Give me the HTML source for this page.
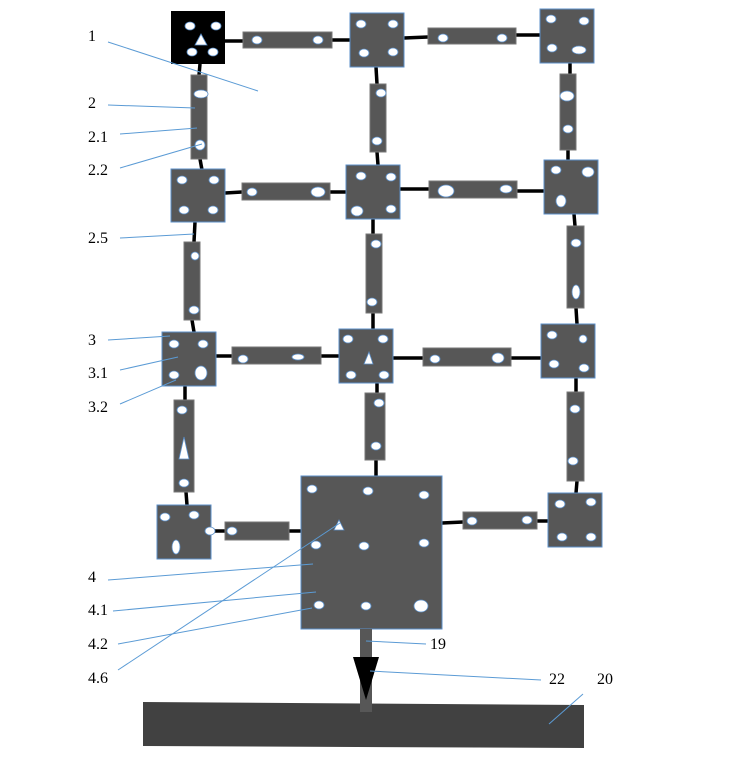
<!DOCTYPE html>
<html><head><meta charset="utf-8"><style>
html,body{margin:0;padding:0;background:#fff;}
svg{display:block}
text{font-family:"Liberation Serif",serif;font-size:16px;fill:#000}
.n{fill:#575757;stroke:#5b8fc9;stroke-width:1}
.b{fill:#575757;stroke:#777;stroke-width:1}
.c{stroke:#000;stroke-width:3.5}
.h{fill:#fff;stroke:#5b8fc9;stroke-width:0.8}
.l{stroke:#5b9bd5;stroke-width:1;fill:none}
</style></head><body>
<svg width="754" height="771" viewBox="0 0 754 771" xmlns="http://www.w3.org/2000/svg">
<!-- connectors -->
<g class="c">
<line x1="225" y1="41" x2="243" y2="41"/><line x1="332" y1="40" x2="350" y2="40"/>
<line x1="404" y1="38" x2="428" y2="37"/><line x1="516" y1="35" x2="540" y2="35"/>
<line x1="200" y1="64" x2="199" y2="75"/><line x1="200" y1="159" x2="202" y2="170"/>
<line x1="376" y1="67" x2="377" y2="84"/><line x1="377" y1="152" x2="378" y2="165"/>
<line x1="570" y1="63" x2="570" y2="74"/><line x1="568" y1="150" x2="568" y2="160"/>
<line x1="225" y1="193" x2="242" y2="192"/><line x1="330" y1="192" x2="346" y2="192"/>
<line x1="400" y1="189" x2="429" y2="189"/><line x1="517" y1="191" x2="544" y2="191"/>
<line x1="195" y1="222" x2="194" y2="242"/><line x1="192" y1="320" x2="194" y2="332"/>
<line x1="373" y1="219" x2="373" y2="234"/><line x1="373" y1="313" x2="373" y2="329"/>
<line x1="574" y1="214" x2="575" y2="226"/><line x1="576" y1="308" x2="577" y2="324"/>
<line x1="216" y1="356" x2="232" y2="356"/><line x1="321" y1="356" x2="339" y2="356"/>
<line x1="393" y1="358" x2="423" y2="358"/><line x1="511" y1="358" x2="541" y2="358"/>
<line x1="185" y1="386" x2="185" y2="400"/><line x1="186" y1="492" x2="187" y2="505"/>
<line x1="377" y1="383" x2="377" y2="393"/><line x1="376" y1="460" x2="376" y2="476"/>
<line x1="576" y1="378" x2="576" y2="392"/><line x1="577" y1="481" x2="576" y2="493"/>
<line x1="211" y1="531" x2="225" y2="531"/><line x1="289" y1="531" x2="301" y2="531"/>
<line x1="442" y1="523" x2="463" y2="522"/><line x1="537" y1="521" x2="548" y2="521"/>
</g>
<!-- bars -->
<g class="b">
<rect x="243" y="32" width="89" height="16"/><rect x="428" y="28" width="88" height="16"/>
<rect x="242" y="183" width="88" height="17"/><rect x="429" y="181" width="88" height="17"/>
<rect x="232" y="347" width="89" height="17"/><rect x="423" y="348" width="88" height="18"/>
<rect x="225" y="522" width="64" height="18"/><rect x="463" y="512" width="74" height="17"/>
<rect x="191" y="75" width="16" height="84"/><rect x="184" y="242" width="16" height="78"/><rect x="174" y="400" width="20" height="92"/>
<rect x="370" y="84" width="16" height="68"/><rect x="366" y="234" width="16" height="79"/><rect x="365" y="393" width="20" height="67"/>
<rect x="560" y="74" width="16" height="76"/><rect x="567" y="226" width="17" height="82"/><rect x="567" y="392" width="17" height="89"/>
</g>
<!-- nodes -->
<rect x="171" y="11" width="54" height="53" fill="#000"/>
<g class="n">
<rect x="350" y="13" width="54" height="54"/><rect x="540" y="9" width="54" height="54"/>
<rect x="171" y="169" width="54" height="53"/><rect x="346" y="165" width="54" height="54"/><rect x="544" y="160" width="54" height="54"/>
<rect x="162" y="332" width="54" height="54"/><rect x="339" y="329" width="54" height="54"/><rect x="541" y="324" width="54" height="54"/>
<rect x="157" y="505" width="54" height="54"/><rect x="301" y="476" width="141" height="153"/><rect x="548" y="493" width="54" height="54"/>
</g>
<!-- base and stem -->
<polygon points="143,702 584,705 584,748 143,746" fill="#414141"/>
<rect x="360" y="629" width="12" height="83" fill="#575757"/>
<polygon points="353,657 379,657 366,700" fill="#000"/>
<!-- holes -->
<g class="h">
<ellipse cx="190" cy="26" rx="5" ry="4"/><ellipse cx="216" cy="26" rx="5" ry="4"/><ellipse cx="192" cy="52" rx="5" ry="4"/><ellipse cx="213" cy="52" rx="5" ry="4"/>
<polygon points="201,34 195,45 207,45" fill="#fff"/>
<ellipse cx="257" cy="40" rx="5" ry="4"/><ellipse cx="318" cy="40" rx="5" ry="4"/>
<ellipse cx="361" cy="24" rx="5" ry="4"/><ellipse cx="393" cy="24" rx="5" ry="4"/><ellipse cx="364" cy="53" rx="5" ry="4"/><ellipse cx="393" cy="52" rx="5" ry="4"/>
<ellipse cx="443" cy="38" rx="5" ry="4"/><ellipse cx="502" cy="38" rx="5" ry="4"/>
<ellipse cx="551" cy="19" rx="5" ry="4"/><ellipse cx="584" cy="21" rx="5" ry="4"/><ellipse cx="552" cy="48" rx="5" ry="4"/><ellipse cx="579" cy="50" rx="7" ry="4"/>
<ellipse cx="201" cy="94" rx="7" ry="4"/><ellipse cx="200" cy="145" rx="5" ry="5"/>
<ellipse cx="381" cy="93" rx="5" ry="4"/><ellipse cx="377" cy="141" rx="5" ry="4"/>
<ellipse cx="567" cy="96" rx="7" ry="5"/><ellipse cx="568" cy="129" rx="5" ry="4"/>
<ellipse cx="182" cy="180" rx="5" ry="4"/><ellipse cx="214" cy="180" rx="5" ry="4"/><ellipse cx="184" cy="210" rx="5" ry="4"/><ellipse cx="213" cy="210" rx="5" ry="4"/>
<ellipse cx="252" cy="192" rx="5" ry="4"/><ellipse cx="318" cy="192" rx="7" ry="5"/>
<ellipse cx="361" cy="176" rx="5" ry="4"/><ellipse cx="391" cy="177" rx="5" ry="4"/><ellipse cx="357" cy="211" rx="6" ry="5"/><ellipse cx="391" cy="209" rx="5" ry="4"/>
<ellipse cx="446" cy="191" rx="8" ry="6"/><ellipse cx="506" cy="189" rx="6" ry="4"/>
<ellipse cx="556" cy="170" rx="5" ry="4"/><ellipse cx="588" cy="172" rx="6" ry="5"/><ellipse cx="561" cy="201" rx="5" ry="6"/>
<ellipse cx="195" cy="256" rx="4" ry="4"/><ellipse cx="194" cy="310" rx="5" ry="4"/>
<ellipse cx="376" cy="244" rx="5" ry="4"/><ellipse cx="372" cy="302" rx="5" ry="4"/>
<ellipse cx="576" cy="243" rx="5" ry="4"/><ellipse cx="576" cy="292" rx="4" ry="7"/>
<ellipse cx="174" cy="344" rx="5" ry="4"/><ellipse cx="203" cy="344" rx="5" ry="4"/><ellipse cx="174" cy="375" rx="5" ry="4"/><ellipse cx="201" cy="373" rx="6" ry="7"/>
<ellipse cx="243" cy="359" rx="5" ry="4"/><ellipse cx="298" cy="357" rx="6" ry="3"/>
<ellipse cx="348" cy="339" rx="5" ry="4"/><ellipse cx="383" cy="339" rx="5" ry="4"/><ellipse cx="351" cy="375" rx="5" ry="4"/><ellipse cx="384" cy="375" rx="5" ry="4"/>
<polygon points="369,352 364,364 373,364" fill="#fff"/>
<ellipse cx="435" cy="359" rx="5" ry="4"/><ellipse cx="498" cy="358" rx="6" ry="5"/>
<ellipse cx="552" cy="335" rx="5" ry="4"/><ellipse cx="583" cy="339" rx="4" ry="4"/><ellipse cx="554" cy="364" rx="5" ry="4"/><ellipse cx="584" cy="368" rx="5" ry="4"/>
<ellipse cx="182" cy="410" rx="5" ry="4"/><ellipse cx="184" cy="483" rx="5" ry="4"/>
<polygon points="184,437 179,459 189,459" fill="#fff"/>
<ellipse cx="379" cy="403" rx="5" ry="4"/><ellipse cx="376" cy="446" rx="5" ry="4"/>
<ellipse cx="575" cy="409" rx="5" ry="4"/><ellipse cx="573" cy="461" rx="5" ry="4"/>
<ellipse cx="165" cy="517" rx="5" ry="4"/><ellipse cx="194" cy="515" rx="5" ry="4"/><ellipse cx="176" cy="547" rx="4" ry="7"/><ellipse cx="210" cy="531" rx="5" ry="4"/>
<ellipse cx="232" cy="531" rx="5" ry="4"/>
<ellipse cx="312" cy="489" rx="5" ry="4"/><ellipse cx="368" cy="491" rx="5" ry="4"/><ellipse cx="424" cy="495" rx="5" ry="4"/>
<ellipse cx="316" cy="545" rx="5" ry="4"/><ellipse cx="364" cy="546" rx="5" ry="4"/><ellipse cx="424" cy="543" rx="5" ry="4"/>
<ellipse cx="319" cy="605" rx="5" ry="4"/><ellipse cx="366" cy="606" rx="5" ry="4"/><ellipse cx="421" cy="606" rx="7" ry="6"/>
<polygon points="339,520 334,530 344,530" fill="#fff"/>
<ellipse cx="472" cy="521" rx="5" ry="4"/><ellipse cx="527" cy="520" rx="5" ry="4"/>
<ellipse cx="560" cy="504" rx="5" ry="4"/><ellipse cx="591" cy="502" rx="5" ry="4"/><ellipse cx="562" cy="537" rx="5" ry="4"/><ellipse cx="591" cy="537" rx="5" ry="4"/>
</g>
<!-- leaders -->
<g class="l">
<line x1="108" y1="42" x2="258" y2="91"/>
<line x1="108" y1="105" x2="195" y2="108"/>
<line x1="120" y1="134" x2="197" y2="128"/>
<line x1="120" y1="168" x2="202" y2="144"/>
<line x1="120" y1="238" x2="194" y2="234"/>
<line x1="108" y1="340" x2="170" y2="336"/>
<line x1="120" y1="370" x2="178" y2="357"/>
<line x1="120" y1="404" x2="176" y2="380"/>
<line x1="108" y1="580" x2="313" y2="564"/>
<line x1="113" y1="611" x2="316" y2="592"/>
<line x1="118" y1="644" x2="312" y2="608"/>
<line x1="118" y1="670" x2="340" y2="523"/>
<line x1="366" y1="641" x2="426" y2="644"/>
<line x1="370" y1="671" x2="541" y2="680"/>
<line x1="549" y1="724" x2="583" y2="694"/>
</g>
<!-- labels -->
<text x="88" y="41">1</text>
<text x="88" y="108">2</text>
<text x="88" y="142">2.1</text>
<text x="88" y="175">2.2</text>
<text x="88" y="243">2.5</text>
<text x="88" y="345">3</text>
<text x="88" y="378">3.1</text>
<text x="88" y="412">3.2</text>
<text x="88" y="582">4</text>
<text x="88" y="615">4.1</text>
<text x="88" y="649">4.2</text>
<text x="88" y="683">4.6</text>
<text x="430" y="649">19</text>
<text x="549" y="684">22</text>
<text x="597" y="684">20</text>
</svg>
</body></html>
